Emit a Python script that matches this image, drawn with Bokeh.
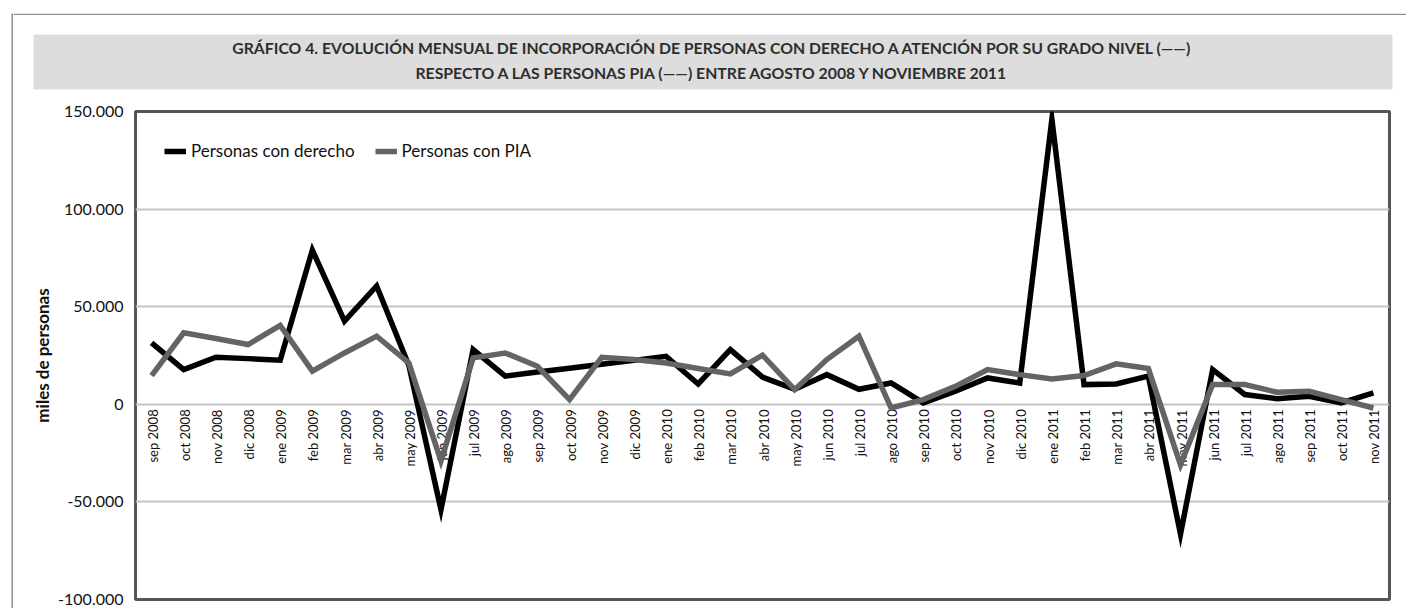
import math
from bokeh.plotting import figure
from bokeh.layouts import row, column
from bokeh.models import Range1d, FactorRange, FixedTicker, Label
from bokeh.core.properties import value
from bokeh.embed import file_html
from bokeh.resources import INLINE

# ---- data ----
months = ["sep 2008", "oct 2008", "nov 2008", "dic 2008", "ene 2009", "feb 2009",
          "mar 2009", "abr 2009", "may 2009", "jun 2009", "jul 2009", "ago 2009",
          "sep 2009", "oct 2009", "nov 2009", "dic 2009", "ene 2010", "feb 2010",
          "mar 2010", "abr 2010", "may 2010", "jun 2010", "jul 2010", "ago 2010",
          "sep 2010", "oct 2010", "nov 2010", "dic 2010", "ene 2011", "feb 2011",
          "mar 2011", "abr 2011", "may 2011", "jun 2011", "jul 2011", "ago 2011",
          "sep 2011", "oct 2011", "nov 2011"]
con_derecho = [31500, 17800, 24100, 23400, 22600, 79000, 42600, 60600, 20000, -54000,
               28000, 14400, 16500, 18500, 20500, 22500, 24600, 10400, 28000, 13900,
               7700, 15200, 7700, 10900, 700, 6700, 13500, 10900, 146000, 10100,
               10400, 14400, -66500, 17800, 5000, 2900, 4100, 700, 5800]
con_pia = [14700, 36600, 33700, 30600, 40400, 17000, 26300, 34900, 21200, -29000,
           23800, 26300, 19500, 2400, 24100, 22900, 21200, 18300, 15600, 25200,
           7500, 22900, 34900, -1900, 2400, 9200, 17800, 15200, 13000, 14700,
           20700, 18300, -31000, 10100, 10100, 6200, 6700, 2400, -1900]
y_ticks = [-100000, -50000, 0, 50000, 100000, 150000]
y_tick_labels = ["-100.000", "-50.000", "0", "50.000", "100.000", "150.000"]
series_names = ["Personas con derecho", "Personas con PIA"]
title_line1 = "GRÁFICO 4. EVOLUCIÓN MENSUAL DE INCORPORACIÓN DE PERSONAS CON DERECHO A ATENCIÓN POR SU GRADO NIVEL (——)"
title_line2 = "RESPECTO A LAS PERSONAS PIA (——) ENTRE AGOSTO 2008 Y NOVIEMBRE 2011"
y_label = "miles de personas"

PAGE_W, PAGE_H = 1406, 608
STRIP_W = 13
TOP_H = 92
MAIN_W = PAGE_W - STRIP_W
FRAME_GRAY = "#8f8f8f"


def bare(fig):
    fig.title.visible = False
    fig.xgrid.visible = False
    fig.ygrid.visible = False
    fig.outline_line_color = None
    fig.border_fill_color = "white"
    return fig


# ---- thin left page rule ----
strip = bare(figure(width=STRIP_W, height=PAGE_H, x_axis_location=None,
                    y_axis_location=None, output_backend="svg", toolbar_location=None,
                    min_border_left=11, min_border_right=0, min_border_top=13,
                    min_border_bottom=0, frame_align=False,
                    x_range=Range1d(0, 1), y_range=Range1d(0, 1)))
strip.background_fill_color = FRAME_GRAY

# ---- heading area (page rule + grey title band) ----
top = bare(figure(width=MAIN_W, height=TOP_H, x_axis_location=None,
                  y_axis_location=None, output_backend="svg", toolbar_location=None,
                  min_border_left=0, min_border_right=0, min_border_top=13,
                  min_border_bottom=0, frame_align=False,
                  x_range=Range1d(STRIP_W, PAGE_W), y_range=Range1d(TOP_H, 13)))
top.background_fill_color = "white"
top.quad(left=[STRIP_W], right=[PAGE_W], top=[13], bottom=[14.6],
         fill_color=FRAME_GRAY, line_color=None)
top.quad(left=[33], right=[1392], top=[34], bottom=[89],
         fill_color="#dddddd", line_color=None)
for txt, yy in ((title_line1, 47), (title_line2, 72)):
    top.add_layout(Label(x=712, y=yy, text=txt, text_align="center",
                         text_baseline="middle", text_font="Lato",
                         text_font_style="bold", text_font_size="15.8px",
                         text_color="#2e2e2e"))

# ---- chart ----
p = figure(width=MAIN_W, height=PAGE_H - TOP_H, x_range=FactorRange(*months),
           y_range=Range1d(-100000, 150000), output_backend="svg",
           toolbar_location=None, min_border_left=122, min_border_right=17,
           min_border_top=19, min_border_bottom=9, frame_align=False)
p.title.visible = False
p.background_fill_color = "white"
p.border_fill_color = "white"
p.outline_line_color = "#555555"
p.outline_line_width = 3

p.xaxis.visible = False
p.xgrid.visible = False
yax = p.yaxis[0]
yax.ticker = FixedTicker(ticks=y_ticks)
yax.major_label_overrides = {t: s for t, s in zip(y_ticks, y_tick_labels)}
yax.axis_line_color = None
yax.major_tick_line_color = None
yax.minor_tick_line_color = None
yax.major_tick_out = 0
yax.major_tick_in = 0
yax.major_label_standoff = 12
yax.major_label_text_font = "Lato"
yax.major_label_text_font_size = "16px"
yax.major_label_text_color = "#111111"
yax.axis_label = y_label
yax.axis_label_text_font = "Lato"
yax.axis_label_text_font_style = "bold"
yax.axis_label_text_font_size = "17px"
yax.axis_label_text_color = "#111111"
yax.axis_label_standoff = 2
p.ygrid.ticker = FixedTicker(ticks=y_ticks)
p.ygrid.grid_line_color = "#c4c4c4"
p.ygrid.grid_line_width = 2

# category labels along the zero line (drawn under the series)
p.text(x=months, y=[0] * len(months), text=months, angle=math.pi / 2,
       text_align="right", text_baseline="middle", y_offset=5, x_offset=1,
       text_font=value("Lato"), text_font_size="13px", text_color="#111111")

p.line(months, con_derecho, line_color="#000000", line_width=5.5,
       line_join="miter", legend_label=series_names[0])
p.line(months, con_pia, line_color="#646464", line_width=5.5,
       line_join="miter", legend_label=series_names[1])

lg = p.legend[0]
lg.location = "top_left"
lg.orientation = "horizontal"
lg.margin = 29
lg.padding = 10
lg.spacing = 20
lg.glyph_width = 22
lg.label_standoff = 5
lg.label_text_font = "Lato"
lg.label_text_font_size = "17px"
lg.label_text_color = "#111111"
lg.border_line_color = None
lg.background_fill_alpha = 0

layout = row(strip, column(top, p))
open("out.html", "w").write(file_html(layout, INLINE))
